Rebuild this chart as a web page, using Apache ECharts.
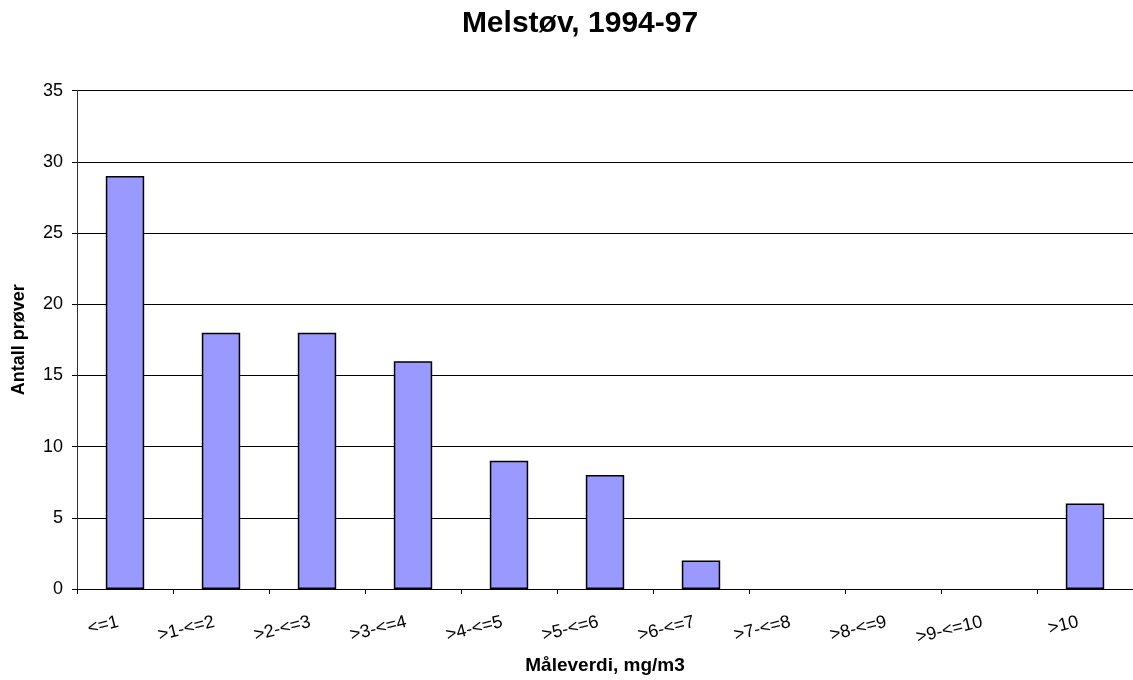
<!DOCTYPE html>
<html>
<head>
<meta charset="utf-8">
<script src="https://cdn.jsdelivr.net/npm/echarts@6/dist/echarts.min.js"></script>
<style>
  html, body { margin: 0; padding: 0; background: #fff; }
  #chart { width: 1133px; height: 680px; }
</style>
</head>
<body>
<div id="chart"></div>
<script>
// Measurement bins (mg/m3) and number of samples in each
const categories = ['<=1', '>1-<=2', '>2-<=3', '>3-<=4', '>4-<=5', '>5-<=6', '>6-<=7', '>7-<=8', '>8-<=9', '>9-<=10', '>10'];
const sampleCounts = [29, 18, 18, 16, 9, 8, 2, 0, 0, 0, 6];

const chart = echarts.init(document.getElementById('chart'));
const font = '"Liberation Sans", Arial, sans-serif';

// Empty bins get no outline so they leave no trace on the baseline
const barData = sampleCounts.map(v => ({
  value: v,
  itemStyle: v === 0 ? { borderWidth: 0 } : undefined
}));

chart.setOption({
  animation: false,
  backgroundColor: '#ffffff',
  title: {
    text: 'Melstøv, 1994-97',
    left: 575,
    textAlign: 'center',
    top: 4,
    textStyle: { fontFamily: font, fontSize: 30, fontWeight: 'bold', color: '#000' }
  },
  grid: { left: 77, right: -5, top: 90.7, bottom: 89, containLabel: false },
  xAxis: {
    type: 'category',
    data: categories,
    name: 'Måleverdi, mg/m3',
    nameLocation: 'middle',
    nameGap: 67,
    nameTextStyle: { fontFamily: font, fontSize: 19, fontWeight: 'bold', color: '#000' },
    axisLine: { lineStyle: { color: '#000', width: 1 } },
    axisTick: { show: true, alignWithLabel: false, length: 5, lineStyle: { color: '#000' } },
    axisLabel: {
      fontFamily: font, fontSize: 18, color: '#000',
      rotate: 14, margin: 31, interval: 0,
      padding: [0, 7, 0, 0]
    }
  },
  yAxis: {
    type: 'value',
    min: 0, max: 35, interval: 5,
    name: 'Antall prøver',
    nameLocation: 'middle',
    nameGap: 49,
    nameRotate: 90,
    nameTextStyle: { fontFamily: font, fontSize: 18, fontWeight: 'bold', color: '#000' },
    axisLine: { show: true, lineStyle: { color: '#333', width: 1 } },
    axisTick: { show: true, inside: false, length: 5, lineStyle: { color: '#000' } },
    axisLabel: { fontFamily: font, fontSize: 18, color: '#000', margin: 14 },
    splitLine: { lineStyle: { color: '#000', width: 1 } }
  },
  series: [{
    type: 'bar',
    data: barData,
    barWidth: '40%',
    itemStyle: { color: '#9999FF', borderColor: '#000', borderWidth: 1.5 }
  }]
});
</script>
</body>
</html>
